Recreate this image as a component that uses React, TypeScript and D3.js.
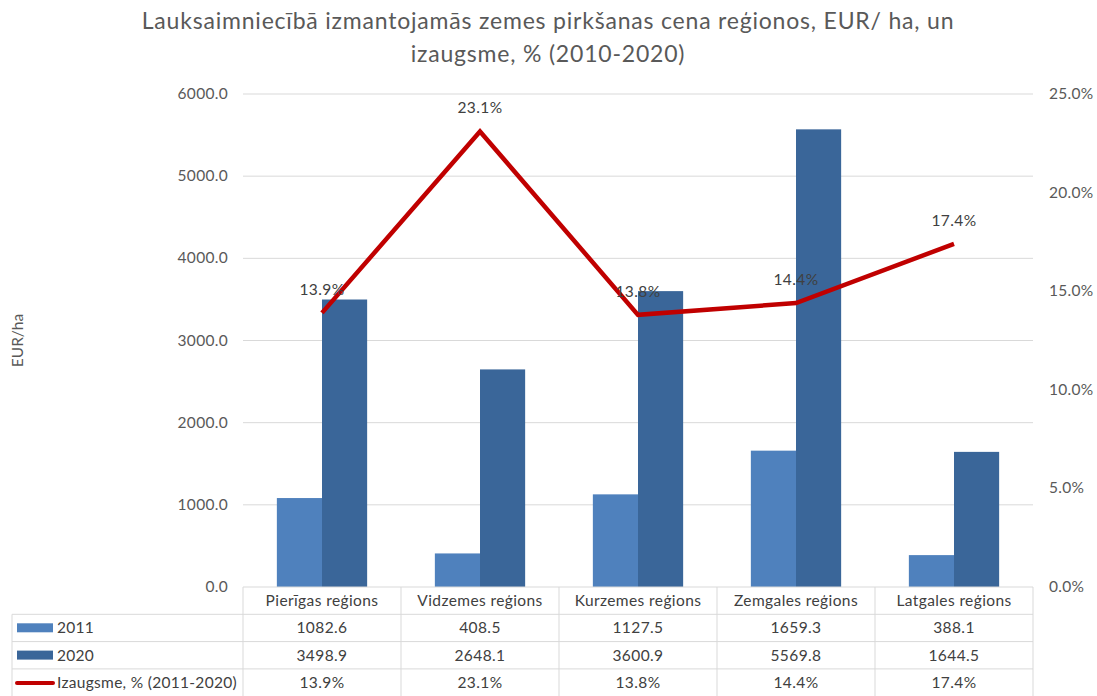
import React from "react";
import * as d3 from "d3";

const categories = ["Pierīgas reģions", "Vidzemes reģions", "Kurzemes reģions", "Zemgales reģions", "Latgales reģions"];
const values2011 = [1082.6, 408.5, 1127.5, 1659.3, 388.1];
const values2020 = [3498.9, 2648.1, 3600.9, 5569.8, 1644.5];
const growth = [0.139, 0.231, 0.138, 0.144, 0.174];
const leftTicks = [0, 1000, 2000, 3000, 4000, 5000, 6000];
const rightTicks = [0, 0.05, 0.1, 0.15, 0.2, 0.25];
const seriesNames = ["2011", "2020", "Izaugsme, % (2011-2020)"];
const titleLines = ["Lauksaimniecībā izmantojamās zemes pirkšanas cena reģionos, EUR/ ha, un", "izaugsme, % (2010-2020)"];

const W = 1097;
const H = 696;
const FONT = "Lato, 'Open Sans', sans-serif";
const C2011 = "#4f81bd";
const C2020 = "#3a6699";
const CLINE = "#c00000";
const GRID = "#d9d9d9";
const FS = 15.5;

export default function App() {
  const left = 243;
  const right = 1033;
  const top = 94;
  const bottom = 587;
  const x = d3.scaleBand<string>().domain(categories).range([left, right]);
  const y = d3.scaleLinear().domain([0, 6000]).range([bottom, top]);
  const y2 = d3.scaleLinear().domain([0, 0.25]).range([bottom, top]);
  const bw = x.bandwidth();
  const barW = bw / 3.5;
  const line = d3
    .line<number>()
    .x((_, i) => (x(categories[i]) as number) + bw / 2)
    .y((d) => y2(d));

  const rowH = 27.3;
  const tableTop = bottom;
  const rows = [values2011, values2020, growth];
  const fmt = (v: number, i: number) => (i === 2 ? (v * 100).toFixed(1) + "%" : v.toFixed(1));

  return (
    <svg width={W} height={H} style={{ position: "absolute", left: 0, top: 0, background: "#fff" }} fontFamily={FONT}>
      <rect width={W} height={H} fill="#fff" />
      {titleLines.map((t, i) => (
        <text key={i} x={548} y={29 + i * 33} textAnchor="middle" fontSize={23} letterSpacing={0.8} fill="#595959">
          {t}
        </text>
      ))}
      {leftTicks.map((t) => (
        <g key={t}>
          {t > 0 && <line x1={left} x2={right} y1={y(t)} y2={y(t)} stroke={GRID} strokeWidth={1} />}
          <text x={228} y={y(t) + 5} textAnchor="end" fontSize={FS} letterSpacing={0.3} fill="#595959">
            {t.toFixed(1)}
          </text>
        </g>
      ))}
      {rightTicks.map((t) => (
        <text key={t} x={1049} y={y2(t) + 5} textAnchor="start" fontSize={FS} letterSpacing={0.3} fill="#595959">
          {(t * 100).toFixed(1) + "%"}
        </text>
      ))}
      <text transform={`translate(23,${(top + bottom) / 2}) rotate(-90)`} textAnchor="middle" fontSize={FS} fill="#595959">
        EUR/ha
      </text>
      {categories.map((c, i) => {
        const cx = (x(c) as number) + bw / 2;
        return (
          <g key={c}>
            <rect x={cx - barW} y={y(values2011[i])} width={barW} height={bottom - y(values2011[i])} fill={C2011} />
            <rect x={cx} y={y(values2020[i])} width={barW} height={bottom - y(values2020[i])} fill={C2020} />
          </g>
        );
      })}
      <path d={line(growth) as string} fill="none" stroke={CLINE} strokeWidth={4.5} strokeLinejoin="miter" />
      {growth.map((g, i) => (
        <text key={i} x={(x(categories[i]) as number) + bw / 2} y={y2(g) - 18} textAnchor="middle" fontSize={FS} letterSpacing={0.4} fill="#404040">
          {(g * 100).toFixed(1) + "%"}
        </text>
      ))}
      {/* table */}
      <g>
        {categories.map((c) => (
          <text key={c} x={(x(c) as number) + bw / 2} y={tableTop + 19} textAnchor="middle" fontSize={FS} letterSpacing={0.4} fill="#404040">
            {c}
          </text>
        ))}
        {rows.map((r, ri) => (
          <g key={ri}>
            {r.map((v, i) => (
              <text key={i} x={(x(categories[i]) as number) + bw / 2} y={tableTop + rowH * (ri + 1) + 19} textAnchor="middle" fontSize={FS} letterSpacing={0.4} fill="#404040">
                {fmt(v, ri)}
              </text>
            ))}
            <text x={57} y={tableTop + rowH * (ri + 1) + 19} fontSize={FS} letterSpacing={0.3} fill="#404040">
              {seriesNames[ri]}
            </text>
          </g>
        ))}
        <rect x={17} y={tableTop + rowH + 9} width={36} height={9} fill={C2011} />
        <rect x={17} y={tableTop + rowH * 2 + 9} width={36} height={9} fill={C2020} />
        <line x1={17} x2={53} y1={tableTop + rowH * 3 + 14} y2={tableTop + rowH * 3 + 14} stroke={CLINE} strokeWidth={4} strokeLinecap="round" />
        <line x1={left} x2={right} y1={tableTop} y2={tableTop} stroke={GRID} />
        {[1, 2, 3].map((k) => (
          <line key={k} x1={12} x2={right} y1={tableTop + rowH * k} y2={tableTop + rowH * k} stroke={GRID} />
        ))}
        <line x1={12} x2={12} y1={tableTop + rowH} y2={H} stroke={GRID} />
        {d3.range(categories.length + 1).map((k) => {
          const xx = k === categories.length ? right : (x(categories[k]) as number);
          return <line key={k} x1={xx} x2={xx} y1={tableTop} y2={H} stroke={GRID} />;
        })}
      </g>
    </svg>
  );
}
